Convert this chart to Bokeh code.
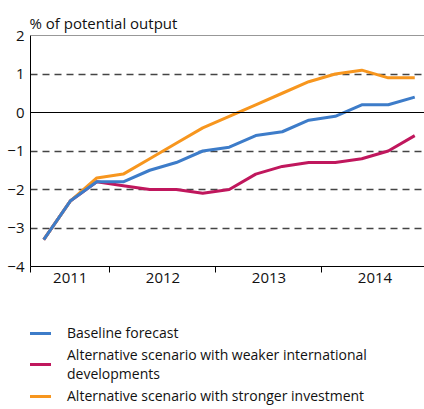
from bokeh.plotting import figure
from bokeh.layouts import column
from bokeh.models import (FixedTicker, Span, Legend, LegendItem, Range1d)
from bokeh.embed import file_html
from bokeh.resources import INLINE

# Quarterly data, 2011 Q2 .. 2014 Q4 (plotted at quarter midpoints)
quarters = ["2011Q2", "2011Q3", "2011Q4",
            "2012Q1", "2012Q2", "2012Q3", "2012Q4",
            "2013Q1", "2013Q2", "2013Q3", "2013Q4",
            "2014Q1", "2014Q2", "2014Q3", "2014Q4"]
baseline = [-3.3, -2.3, -1.8, -1.8, -1.5, -1.3, -1.0, -0.9, -0.6, -0.5, -0.2, -0.1, 0.2, 0.2, 0.4]
weaker = [-3.3, -2.3, -1.8, -1.9, -2.0, -2.0, -2.1, -2.0, -1.6, -1.4, -1.3, -1.3, -1.2, -1.0, -0.6]
stronger = [-3.3, -2.3, -1.7, -1.6, -1.2, -0.8, -0.4, -0.1, 0.2, 0.5, 0.8, 1.0, 1.1, 0.9, 0.9]
year_labels = ["2011", "2012", "2013", "2014"]
year_label_pos = [2011.625, 2012.5, 2013.5, 2014.5]
year_bounds = [2011.25, 2012, 2013, 2014]
y_ticks = [-4, -3, -2, -1, 0, 1, 2]
dashed_grid = [-3, -2, -1, 1]
names = ["Baseline forecast",
         "Alternative scenario with weaker international\ndevelopments",
         "Alternative scenario with stronger investment"]
colors = ["#3d7cc9", "#c0175d", "#f7961e"]

def qpos(q):
    y = int(q[:4]); n = int(q[-1])
    return y + (n - 1) * 0.25 + 0.125

x = [qpos(q) for q in quarters]

FONT = "Open Sans"
W = 424

p = figure(frame_width=394, frame_height=231, output_backend="svg", toolbar_location=None,
           x_range=Range1d(2011.25, 2014.967), y_range=Range1d(-4, 2),
           min_border_left=30, min_border_right=0, min_border_top=35,
           min_border_bottom=0)
p.background_fill_color = "white"
p.border_fill_color = "white"
p.outline_line_color = None

p.title.text = "% of potential output"
p.title.text_font = FONT
p.title.text_font_size = "15px"
p.title.text_font_style = "normal"
p.title.text_color = "#111111"
p.title.offset = -1
p.title.standoff = 5

# axes
xa = p.xaxis[0]
xa.ticker = FixedTicker(ticks=year_label_pos, minor_ticks=year_bounds)
xa.major_label_overrides = {t: l for t, l in zip(year_label_pos, year_labels)}
xa.major_tick_out = 0
xa.major_tick_in = 0
xa.minor_tick_out = 6
xa.minor_tick_in = 0
xa.minor_tick_line_color = "black"
xa.axis_line_color = "black"
xa.major_label_text_font = FONT
xa.major_label_text_font_size = "15px"
xa.major_label_text_color = "#111111"
xa.major_label_standoff = 0

ya = p.yaxis[0]
ya.ticker = FixedTicker(ticks=y_ticks)
ya.major_tick_out = 0
ya.major_tick_in = 0
ya.minor_tick_out = 0
ya.minor_tick_in = 0
ya.axis_line_color = "black"
ya.major_label_text_font = FONT
ya.major_label_text_font_size = "15px"
ya.major_label_text_color = "#111111"
ya.major_label_standoff = 6

p.xgrid.visible = False
p.ygrid.ticker = FixedTicker(ticks=dashed_grid)
p.ygrid.grid_line_color = "#444444"
p.ygrid.grid_line_dash = "7 5"
p.ygrid.grid_line_width = 1.3

p.add_layout(Span(location=0, dimension="width", line_color="black", line_width=1.2))
p.add_layout(Span(location=2, dimension="width", line_color="#333333", line_width=1))

for series, c in zip([weaker, stronger, baseline], [colors[1], colors[2], colors[0]]):
    p.line(x, series, line_color=c, line_width=3)

# legend panel (separate figure beneath the chart); its lines lie outside its view
lf = figure(width=W, height=120, output_backend="svg", toolbar_location=None,
            x_range=Range1d(0, 1), y_range=Range1d(0, 1),
            min_border_left=0, min_border_right=0, min_border_top=0,
            min_border_bottom=0)
lf.axis.visible = False
lf.grid.visible = False
lf.outline_line_color = None
lf.background_fill_color = "white"
lf.border_fill_color = "white"
proxies = [lf.line(x, s, line_color=c, line_width=3)
           for s, c in zip([baseline, weaker, stronger], colors)]
legend = Legend(items=[LegendItem(label=n, renderers=[r]) for n, r in zip(names, proxies)],
                location=(-4, 0), orientation="vertical",
                border_line_color=None, background_fill_alpha=0,
                label_text_font=FONT, label_text_font_size="14px",
                label_text_color="#111111",
                glyph_width=25, glyph_height=18, label_height=18,
                label_standoff=16, spacing=3, padding=0, margin=0)
lf.add_layout(legend, "center")

layout = column(p, lf, spacing=0)
open("out.html", "w").write(file_html(layout, INLINE))
